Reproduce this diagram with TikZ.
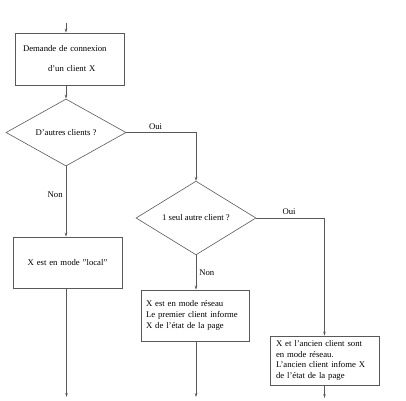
\documentclass[tikz,border=0pt]{standalone}
\usepackage{fontspec}
\setmainfont{Liberation Serif}
\usetikzlibrary{arrows.meta,positioning,shapes.geometric}

\begin{document}
\begin{tikzpicture}[x=1pt,y=-1pt,
  every node/.style={font=\fontsize{8.7}{10.6}\selectfont},
  box/.style={rectangle,draw=black!65,line width=0.6pt,align=left,
    inner ysep=0pt,minimum height=51pt},
  test/.style={diamond,draw=black!65,line width=0.6pt,inner sep=0pt,
    minimum width=120pt,minimum height=62pt},
  flow/.style={draw=black!65,line width=0.6pt,-{Stealth[length=4pt,width=2.6pt]}},
  lbl/.style={inner sep=3pt}]
  \useasboundingbox (0,0) rectangle (406,400);

  \coordinate (start) at (66,23);
  \node[box,text width=93pt,inner xsep=8pt,minimum height=52pt] (demande) at (69.5,59)
    {Demande de connexion\\[9.4pt]\hspace*{25pt}d'un client X};
  \node[test] (autres) at (66,132.5) {D'autres clients ?};
  \node[box,text width=93pt,inner xsep=8pt,align=center] (local) at (67.5,262.5)
    {X est en mode "local"};
  \node[test] (seul) at (196,218) {1 seul autre client ?};
  \node[box,text width=98pt,inner xsep=5pt] (reseau) at (195,315.5)
    {X est en mode réseau\\Le premier client informe\\X de l'état de la page};
  \node[box,text width=97pt,inner xsep=6pt,minimum height=49pt] (ancien) at (324.5,360.5)
    {X et l'ancien client sont\\en mode réseau.\\L'ancien client infome X\\de l'état de la page};
  \coordinate (fin_local) at (66.5,397);
  \coordinate (fin_reseau) at (196,397);
  \coordinate (fin_ancien) at (324.5,398);

  \path[flow] (start) -- (start |- demande.north);
  \path[flow] (autres.north |- demande.south) -- (autres.north);
  \path[flow] (autres.south) -- node[lbl,left,pos=0.4] {Non} (autres.south |- local.north);
  \path[flow] (autres.east) -| node[lbl,above,pos=0.21] {Oui} (seul.north);
  \path[flow] (seul.south) -- node[lbl,right,pos=0.5] {Non} (seul.south |- reseau.north);
  \path[flow] (seul.east) -| node[lbl,above,pos=0.24] {Oui} (ancien.north);
  \path[flow] (local.south -| fin_local) -- (fin_local);
  \path[flow] (reseau.south -| fin_reseau) -- (fin_reseau);
  \path[flow] (ancien.south) -- (fin_ancien);
\end{tikzpicture}
\end{document}
